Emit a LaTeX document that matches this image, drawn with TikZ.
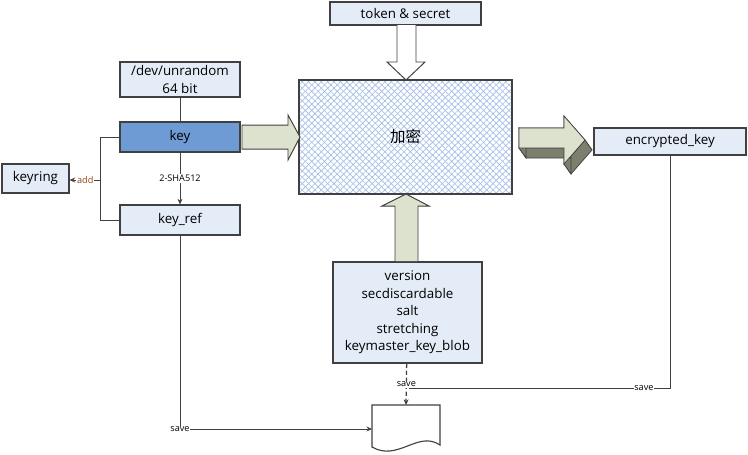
\documentclass[tikz,border=0pt]{standalone}
\usepackage{fontspec}
\setmainfont{Open Sans}
\newfontfamily\cjk{Noto Sans CJK SC}
\usetikzlibrary{arrows.meta,calc,patterns.meta}
\definecolor{boxfill}{RGB}{228,236,248}
\definecolor{keyblue}{RGB}{111,155,213}
\definecolor{olive}{RGB}{221,226,206}
\definecolor{olivedark}{RGB}{125,127,110}
\definecolor{edge}{RGB}{64,64,64}
\definecolor{hatch}{RGB}{160,188,232}
\definecolor{addbrown}{RGB}{150,70,20}

\begin{document}
\begin{tikzpicture}[x=0.25mm,y=-0.25mm,>={Stealth[length=4pt,width=3.5pt]},
  box/.style={draw=edge,line width=0.8pt,fill=boxfill,align=center,inner sep=0pt,
    font=\fontsize{9.5}{12.5}\selectfont},
  tag/.style={fill=white,inner sep=0.5pt,font=\fontsize{6.5}{7.5}\selectfont},
  wire/.style={draw=edge,line width=0.6pt}]
  \useasboundingbox (0,0) rectangle (748,454);

  \node[box,minimum width=30mm,minimum height=8.75mm] (unrandom) at (180,79.5) {/dev/unrandom\\64 bit};
  \node[box,fill=keyblue,minimum width=30mm,minimum height=7.5mm] (key) at (180,137) {key};
  \node[box,minimum width=30mm,minimum height=7.5mm] (keyref) at (180,220) {key\_ref};
  \node[box,minimum width=16.75mm,minimum height=7.25mm] (keyring) at (35.5,178.5) {keyring};
  \node[box,minimum width=37.75mm,minimum height=5.75mm] (token) at (405.5,13.5) {token \& secret};
  \node[box,minimum width=37.25mm,minimum height=25.25mm] (params) at (407.5,312.5)
    {version\\secdiscardable\\salt\\stretching\\keymaster\_key\_blob};
  \node[box,minimum width=38mm,minimum height=6.75mm] (enckey) at (670,141.5) {encrypted\_key};

  \fill[white] (299,80) rectangle (512,194);
  \fill[pattern={Lines[angle=45,distance=3.2pt,line width=0.45pt]},pattern color=hatch] (299,80) rectangle (512,194);
  \fill[pattern={Lines[angle=-45,distance=3.2pt,line width=0.45pt]},pattern color=hatch] (299,80) rectangle (512,194);
  \node[draw=edge,line width=0.8pt,minimum width=53.25mm,minimum height=28.5mm,
    font=\cjk\fontsize{11}{13}\selectfont] (crypt) at (405.5,137) {加密};

  \draw[edge,line width=0.7pt,fill=olive] (242,125) -- (288,125) -- (288,115) -- (300,137)
    -- (288,160) -- (288,149) -- (242,149) -- cycle;
  \draw[edge,line width=0.7pt,fill=white] (397,25) -- (397,62) -- (387,62) -- (406,80)
    -- (425,62) -- (416,62) -- (416,25);
  \draw[edge,line width=0.7pt,fill=olive] (395,261) -- (395,206) -- (382,206) -- (406,194)
    -- (429,206) -- (418,206) -- (418,261);

  \coordinate (a1) at (519,128);
  \coordinate (a2) at (564,128);
  \coordinate (a3) at (564,116);
  \coordinate (a4) at (585,140);
  \coordinate (a5) at (564,164);
  \coordinate (a6) at (564,148);
  \coordinate (a7) at (519,148);
  \foreach \i/\j in {1/2,2/3,3/4,4/5,5/6,6/7,7/1}
    \filldraw[olivedark,draw=edge,line width=0.5pt] (a\i) -- (a\j) -- ($(a\j)+(7,10)$) -- ($(a\i)+(7,10)$) -- cycle;
  \filldraw[olive,draw=edge,line width=0.5pt] (a1) -- (a2) -- (a3) -- (a4) -- (a5) -- (a6) -- (a7) -- cycle;

  \draw[edge,line width=0.8pt,fill=white] (372,405) -- (440,405) -- (440,445)
    .. controls (418,430) and (398,462) .. (372,447) -- cycle;
  \coordinate (doctop) at (406,405);
  \coordinate (docleft) at (372,429);
  \coordinate (fork) at (101,180);
  \coordinate (join) at (409,388);

  \draw[wire] (unrandom) -- (key);
  \draw[wire,->] (key) -- node[tag] {2-SHA512} (keyref);
  \draw[wire] (key.west) -- ++(-19,0) |- (keyref.west);
  \draw[wire,->] (fork) -- node[tag,text=addbrown] {add} (keyring.east |- fork);
  \draw[wire,->] (keyref) |- node[tag,pos=0.5] {save} (docleft);
  \draw[wire] (enckey) |- node[tag,pos=0.55] {save} (join);
  \draw[wire,->,densely dashed,line width=0.9pt] (params) -- node[tag] {save} (doctop);
\end{tikzpicture}
\end{document}
